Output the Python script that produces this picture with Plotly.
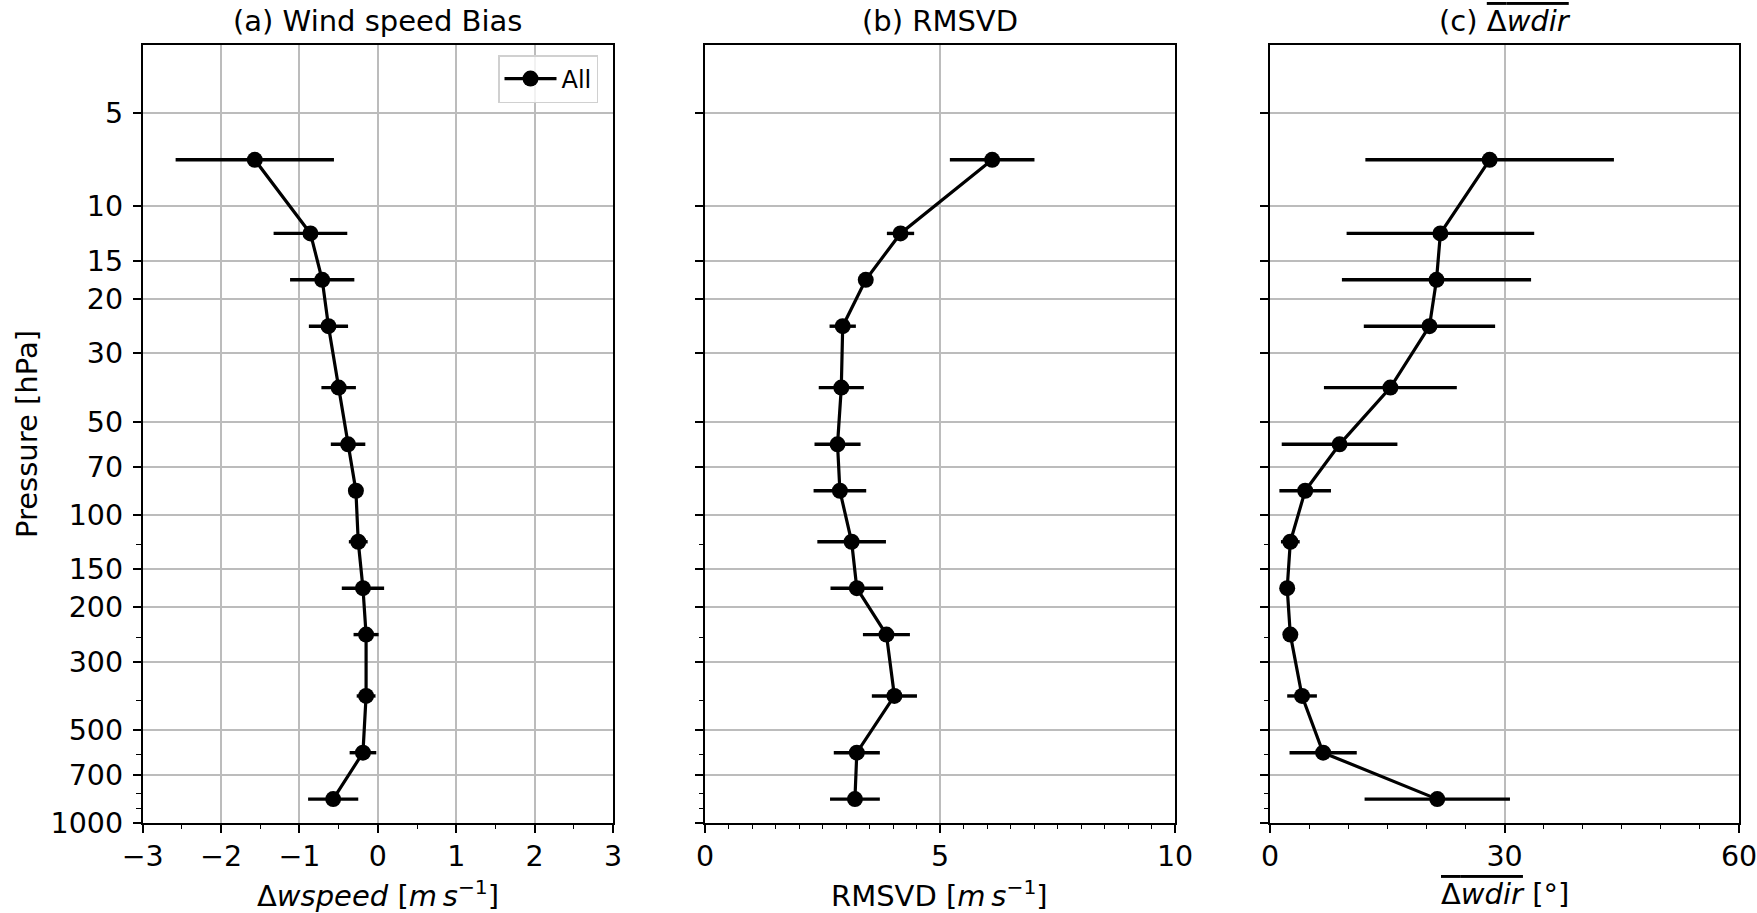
import math
import plotly.graph_objects as go

# ---------------- data ----------------
pressure = [7.07, 12.25, 17.32, 24.49, 38.73, 59.16, 83.67, 122.47, 173.21,
            244.95, 387.30, 591.61, 836.66]
bias = [-1.57, -0.86, -0.71, -0.63, -0.50, -0.38, -0.28, -0.25, -0.19,
        -0.15, -0.15, -0.19, -0.57]
bias_err = [1.01, 0.47, 0.41, 0.25, 0.22, 0.22, 0.09, 0.12, 0.27,
            0.16, 0.12, 0.17, 0.32]
rmsvd = [6.11, 4.16, 3.42, 2.93, 2.90, 2.82, 2.87, 3.12, 3.23,
         3.86, 4.03, 3.23, 3.19]
rmsvd_err = [0.90, 0.29, 0.12, 0.28, 0.48, 0.49, 0.56, 0.73, 0.56,
             0.50, 0.48, 0.49, 0.53]
wdir = [28.1, 21.8, 21.3, 20.4, 15.4, 8.9, 4.5, 2.6, 2.2,
        2.6, 4.1, 6.8, 21.4]
wdir_err = [15.9, 12.0, 12.1, 8.4, 8.5, 7.4, 3.3, 1.2, 0.6,
            0.6, 1.9, 4.3, 9.3]

p_ticks = [5, 10, 15, 20, 30, 50, 70, 100, 150, 200, 300, 500, 700, 1000]
p_minor = [125, 250, 400, 600, 800, 900]
p_range = [1000, 3]

bias_ticks = [-3, -2, -1, 0, 1, 2, 3]
rmsvd_ticks = [0, 5, 10]
wdir_ticks = [0, 30, 60]

titles = ["(a) Wind speed Bias", "(b) RMSVD",
          "(c) <span style=\"text-decoration:overline\">Δ<i>wdir</i></span>"]
xlabels = ["Δ<i>wspeed</i> [<i>m\u2009s</i><sup>−1</sup>]",
           "RMSVD [<i>m\u2009s</i><sup>−1</sup>]",
           "<span style=\"text-decoration:overline\">Δ<i>wdir</i></span> [°]"]
ylabel = "Pressure [hPa]"

# ---------------- layout geometry ----------------
W, H = 1757, 913
xdoms = [(142.7, 613.0), (705.0, 1175.0), (1270.0, 1739.0)]
ytop, ybot = 45.0, 823.0
FONT = "DejaVu Sans, Verdana, sans-serif"
FS_TICK = 28.5
FS_LAB = 29
GRID = "#bcbcbc"

fig = go.Figure()

series = [(bias, bias_err), (rmsvd, rmsvd_err), (wdir, wdir_err)]
for i, (vals, errs) in enumerate(series):
    fig.add_trace(go.Scatter(
        x=vals, y=pressure, mode="lines+markers", name="All",
        showlegend=(i == 0),
        line=dict(color="black", width=3.2),
        marker=dict(color="black", size=16, symbol="circle"),
        error_x=dict(type="data", array=errs, symmetric=True,
                     color="black", thickness=3.4, width=0),
        xaxis="x" if i == 0 else f"x{i+1}",
        yaxis="y" if i == 0 else f"y{i+1}",
    ))

xranges = [(-3, 3), (0, 10), (0, 60)]
xticks = [bias_ticks, rmsvd_ticks, wdir_ticks]
xminor = [0.5, 0.5, 5]

layout = dict(
    width=W, height=H,
    margin=dict(l=0, r=0, t=0, b=0, autoexpand=False),
    paper_bgcolor="white", plot_bgcolor="white",
    font=dict(family=FONT, size=FS_TICK, color="black"),
    showlegend=True,
    legend=dict(
        x=598 / W, y=1 - 55 / H, xanchor="right", yanchor="top",
        bgcolor="rgba(255,255,255,0.8)", bordercolor="#d0d0d0", borderwidth=1.5,
        font=dict(family=FONT, size=24, color="black"),
        itemwidth=52,
    ),
)

ydom = [(H - ybot) / H, (H - ytop) / H]
for i in range(3):
    sx = "" if i == 0 else str(i + 1)
    x0, x1 = xdoms[i]
    layout["xaxis" + sx] = dict(
        domain=[x0 / W, x1 / W], range=list(xranges[i]), anchor="y" + sx,
        automargin=False, ticklabeloverflow="allow",
        tickmode="array", tickvals=xticks[i],
        ticks="outside", ticklen=8, tickwidth=1.8, tickcolor="black",
        showline=True, linecolor="black", linewidth=1.8, mirror=True,
        showgrid=True, gridcolor=GRID, gridwidth=1.5, zeroline=False,
        tickfont=dict(family=FONT, size=FS_TICK, color="black"),
        ticklabelstandoff=-1,
        minor=dict(dtick=xminor[i], tick0=0, ticks="outside", ticklen=4.5,
                   tickwidth=1.4, tickcolor="black", showgrid=False),
    )
    layout["yaxis" + sx] = dict(
        domain=ydom, type="log",
        range=[math.log10(p_range[0]), math.log10(p_range[1])],
        anchor="x" + sx, automargin=False, ticklabeloverflow="allow",
        tickmode="array", tickvals=p_ticks, ticktext=[str(t) for t in p_ticks],
        showticklabels=(i == 0),
        ticks="outside", ticklen=8, tickwidth=1.8, tickcolor="black",
        showline=True, linecolor="black", linewidth=1.8, mirror=True,
        showgrid=True, gridcolor=GRID, gridwidth=1.5, zeroline=False,
        tickfont=dict(family=FONT, size=FS_TICK, color="black"),
        ticklabelstandoff=4,
        minor=dict(tickmode="array", tickvals=p_minor, ticks="outside",
                   ticklen=4.5, tickwidth=1.4, tickcolor="black", showgrid=False),
    )

fig.update_layout(**layout)

annotations = []
for i in range(3):
    x0, x1 = xdoms[i]
    xc = (x0 + x1) / 2 / W
    annotations.append(dict(text=titles[i], x=xc, y=1 - 21 / H, xref="paper",
                            yref="paper", xanchor="center", yanchor="middle",
                            showarrow=False, font=dict(family=FONT, size=FS_LAB, color="black")))
    annotations.append(dict(text=xlabels[i], x=xc, y=1 - 894 / H, xref="paper",
                            yref="paper", xanchor="center", yanchor="middle",
                            showarrow=False, font=dict(family=FONT, size=FS_LAB, color="black")))
annotations.append(dict(text=ylabel, x=27 / W, y=1 - 434 / H, xref="paper", yref="paper",
                        xanchor="center", yanchor="middle", textangle=-90,
                        showarrow=False, font=dict(family=FONT, size=FS_LAB, color="black")))
fig.update_layout(annotations=annotations)

fig.write_html("out.html")
